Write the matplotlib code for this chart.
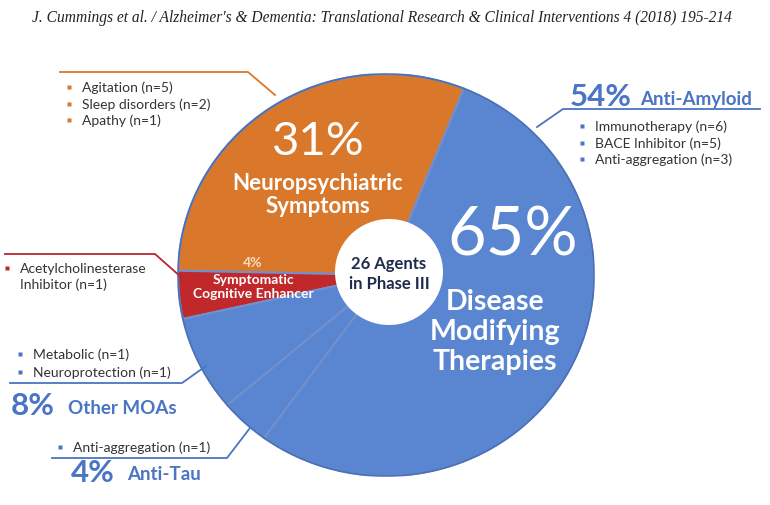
import numpy as np
import matplotlib.pyplot as plt
from matplotlib.patches import Ellipse

# datos del gráfico
grupos = ["Neuropsychiatric Symptoms", "Symptomatic Cognitive Enhancer",
          "Other MOAs", "Anti-Tau", "Anti-Amyloid"]
agentes = [8, 1, 2, 1, 14]
colores = ["#d9782b", "#c0282b", "#5a85d1", "#5a85d1", "#5a85d1"]

items_neuro = ["Agitation (n=5)", "Sleep disorders (n=2)", "Apathy (n=1)"]
items_amiloide = ["Immunotherapy (n=6)", "BACE Inhibitor (n=5)", "Anti-aggregation (n=3)"]
items_otros = ["Metabolic (n=1)", "Neuroprotection (n=1)"]
items_tau = ["Anti-aggregation (n=1)"]
items_ache = ["Acetylcholinesterase", "Inhibitor (n=1)"]

titulo = ("J. Cummings et al. / Alzheimer's & Dementia: Translational Research "
          "& Clinical Interventions 4 (2018) 195-214")

total = sum(agentes)
pct = [round(100 * a / total) for a in agentes]
pct_dmt = round(100 * sum(agentes[2:]) / total)

AZUL = "#4a74c4"
NARANJA = "#d9782b"
ROJO = "#b8272b"
FUENTE = "Lato"

W, H = 770, 506
fig = plt.figure(figsize=(W / 100, H / 100), dpi=100)

# torta en sus propios ejes (algo estirada en horizontal, como el original)
pcx, pcy, rx, ry = 386, 276, 208, 201
axp = fig.add_axes([(pcx - rx) / W, (H - pcy - ry) / H, 2 * rx / W, 2 * ry / H])
axp.pie(agentes, colors=colores, startangle=68, counterclock=True,
        radius=1, frame=True,
        wedgeprops=dict(edgecolor="#7390cc", linewidth=1.5))
axp.set_aspect("auto")
axp.set_xlim(-1, 1)
axp.set_ylim(-1, 1)
axp.axis("off")
axp.add_patch(Ellipse((0, 0), 2, 2, fill=False, ec="#4a70b8", lw=1.2))
# círculo blanco del centro (centro en 389, 273 px)
axp.add_patch(Ellipse((3 / rx, (pcy - 273) / ry), 2 * 54 / rx, 2 * 53 / ry,
                      fc="white", ec="none", zorder=3))

# ejes de texto en pixeles
ax = fig.add_axes([0, 0, 1, 1])
ax.set_xlim(0, W)
ax.set_ylim(0, H)
ax.axis("off")


def Y(y):
    # coordenadas de pixel (y hacia abajo) -> datos
    return H - y


# título
ax.text(382, Y(18), titulo, ha="center", va="center", fontsize=11.2,
        family="Liberation Serif", style="italic", color="#222222")

# texto dentro de la torta
ax.text(318, Y(142), f"{pct[0]}%", ha="center", va="center", fontsize=34,
        family=FUENTE, weight="normal", color="white")
ax.text(318, Y(195), "Neuropsychiatric\nSymptoms", ha="center", va="center",
        fontsize=16, family=FUENTE, weight="bold", color="white", linespacing=1.1)
ax.text(513, Y(237), f"{pct_dmt}%", ha="center", va="center", fontsize=48,
        family=FUENTE, weight="normal", color="white")
ax.text(495, Y(332), "Disease\nModifying\nTherapies", ha="center", va="center",
        fontsize=20.5, family=FUENTE, weight="bold", color="white", linespacing=1.2)
ax.text(253, Y(263), f"{pct[1]}%", ha="center", va="center", fontsize=10,
        family=FUENTE, weight="bold", color="#f7dcc2")
ax.text(253, Y(287), "Symptomatic\nCognitive Enhancer", ha="center", va="center",
        fontsize=10, family=FUENTE, weight="bold", color="white", linespacing=1.1)
ax.text(389, Y(274), "26 Agents\nin Phase III", ha="center", va="center",
        fontsize=12, family=FUENTE, weight="bold", color="#1f2a4d",
        linespacing=1.25, zorder=4)


def lista(x, y0, items, color, paso=16.5, size=10):
    for i, t in enumerate(items):
        yy = Y(y0 + i * paso)
        ax.plot(x - 13, yy, marker="s", ms=2.6, color=color, mec="none")
        ax.text(x, yy, t, ha="left", va="center", fontsize=size,
                family=FUENTE, color="#333333")


# neuropsiquiátricos (arriba izquierda)
ax.plot([60, 248, 275], [Y(73), Y(73), Y(96)], color=NARANJA, lw=1.3)
lista(82, 88, items_neuro, NARANJA)

# anti-amiloide (derecha)
ax.plot([537, 563, 760], [Y(128), Y(110), Y(110)], color=AZUL, lw=1.3)
ax.text(570, Y(97), f"{pct[4]}%", ha="left", va="center", fontsize=22.5,
        family=FUENTE, weight="bold", color=AZUL)
ax.text(640, Y(99), grupos[4], ha="left", va="center", fontsize=13.5,
        family=FUENTE, weight="bold", color=AZUL)
lista(595, 127, items_amiloide, AZUL)

# inhibidor de acetilcolinesterasa (izquierda)
ax.plot([5, 155, 181], [Y(255), Y(255), Y(278)], color=ROJO, lw=1.3)
lista(20, 269, items_ache[:1], ROJO)
ax.text(20, Y(285), items_ache[1], ha="left", va="center", fontsize=10,
        family=FUENTE, color="#333333")

# otros mecanismos (abajo izquierda)
lista(33, 355, items_otros, AZUL, paso=18)
ax.plot([10, 182, 206], [Y(384), Y(384), Y(367)], color=AZUL, lw=1.3)
ax.text(11, Y(406), f"{pct[2]}%", ha="left", va="center", fontsize=22.5,
        family=FUENTE, weight="bold", color=AZUL)
ax.text(68, Y(408), grupos[2], ha="left", va="center", fontsize=13.5,
        family=FUENTE, weight="bold", color=AZUL)

# anti-tau (abajo)
lista(73, 448, items_tau, AZUL)
ax.plot([52, 227, 250], [Y(459), Y(459), Y(429)], color=AZUL, lw=1.3)
ax.text(71, Y(473), f"{pct[3]}%", ha="left", va="center", fontsize=22.5,
        family=FUENTE, weight="bold", color=AZUL)
ax.text(127, Y(475), grupos[3], ha="left", va="center", fontsize=13.5,
        family=FUENTE, weight="bold", color=AZUL)

fig.savefig("out.png", dpi=100, facecolor="white")
